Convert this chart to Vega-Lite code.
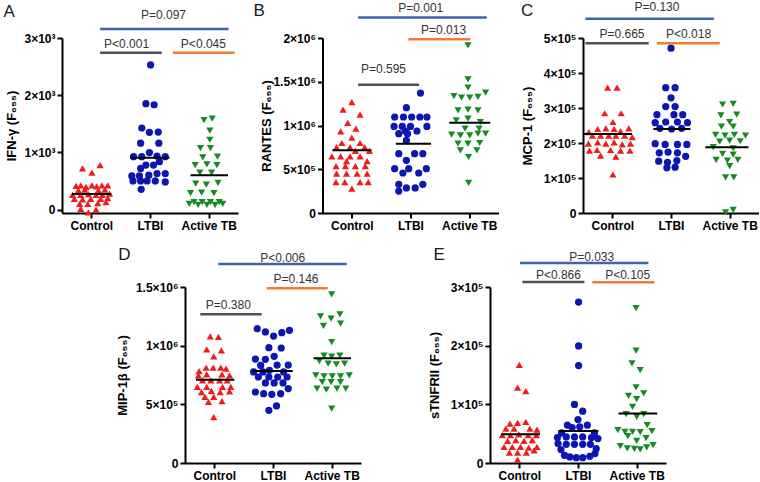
{
"$schema":"https://vega.github.io/schema/vega-lite/v6.json",
"padding":{"left":3,"top":1,"right":0,"bottom":0},
"background":"white",
"config":{
 "view":{"stroke":null},
 "font":"Liberation Sans",
 "point":{"size":52},
 "axis":{"domainColor":"#000","domainWidth":2,"tickColor":"#000","tickWidth":2,"tickSize":5,"labelFont":"Liberation Sans","labelFontSize":12,"labelFontWeight":"bold","labelColor":"#000","titleFont":"Liberation Sans","titleFontSize":13,"titleFontWeight":"bold","titleColor":"#000","grid":false,"labelPadding":2,"labelFlush":false,"labelOverlap":false,"titleBaseline":"alphabetic","tickCount":12},
 "axisX":{"labelAngle":0}
},
"datasets":{
"A":[
{"g":"Control","x":1.15,"v":778},{"g":"Control","x":1.01,"v":648},{"g":"Control","x":0.85,"v":719},{"g":"Control","x":0.74,"v":413},{"g":"Control","x":0.82,"v":424},{"g":"Control","x":0.91,"v":395},{"g":"Control","x":1.01,"v":424},{"g":"Control","x":1.09,"v":407},{"g":"Control","x":1.18,"v":424},{"g":"Control","x":1.28,"v":424},{"g":"Control","x":0.78,"v":336},{"g":"Control","x":0.89,"v":348},{"g":"Control","x":1.12,"v":336},{"g":"Control","x":1.23,"v":348},{"g":"Control","x":0.68,"v":259},{"g":"Control","x":0.82,"v":259},{"g":"Control","x":0.95,"v":271},{"g":"Control","x":1.08,"v":259},{"g":"Control","x":1.19,"v":259},{"g":"Control","x":1.31,"v":277},{"g":"Control","x":0.71,"v":189},{"g":"Control","x":0.85,"v":177},{"g":"Control","x":0.99,"v":189},{"g":"Control","x":1.16,"v":189},{"g":"Control","x":1.28,"v":200},{"g":"Control","x":0.8,"v":100},{"g":"Control","x":0.94,"v":100},{"g":"Control","x":1.11,"v":112},{"g":"Control","x":1.25,"v":130},{"g":"Control","x":0.82,"v":12},{"g":"Control","x":1.08,"v":0},{"g":"Control","x":0.95,"v":-50},
{"g":"LTBI","x":2.01,"v":2529},{"g":"LTBI","x":1.93,"v":1851},{"g":"LTBI","x":2.07,"v":1833},{"g":"LTBI","x":1.86,"v":1426},{"g":"LTBI","x":1.99,"v":1350},{"g":"LTBI","x":2.14,"v":1356},{"g":"LTBI","x":1.84,"v":1161},{"g":"LTBI","x":2.15,"v":1161},{"g":"LTBI","x":1.99,"v":996},{"g":"LTBI","x":1.72,"v":925},{"g":"LTBI","x":1.86,"v":925},{"g":"LTBI","x":2.12,"v":937},{"g":"LTBI","x":2.26,"v":925},{"g":"LTBI","x":2.16,"v":837},{"g":"LTBI","x":1.93,"v":778},{"g":"LTBI","x":2.06,"v":778},{"g":"LTBI","x":1.84,"v":719},{"g":"LTBI","x":2.12,"v":631},{"g":"LTBI","x":2.26,"v":631},{"g":"LTBI","x":1.69,"v":589},{"g":"LTBI","x":1.82,"v":589},{"g":"LTBI","x":1.98,"v":601},{"g":"LTBI","x":1.71,"v":501},{"g":"LTBI","x":1.84,"v":501},{"g":"LTBI","x":1.95,"v":501},{"g":"LTBI","x":2.09,"v":501},{"g":"LTBI","x":2.26,"v":483},{"g":"LTBI","x":1.85,"v":354},
{"g":"Active TB","x":3.06,"v":1591},{"g":"Active TB","x":2.92,"v":1562},{"g":"Active TB","x":3.02,"v":1379},{"g":"Active TB","x":3.02,"v":1220},{"g":"Active TB","x":2.86,"v":1073},{"g":"Active TB","x":3.03,"v":1073},{"g":"Active TB","x":2.9,"v":914},{"g":"Active TB","x":3.15,"v":925},{"g":"Active TB","x":2.77,"v":778},{"g":"Active TB","x":2.97,"v":790},{"g":"Active TB","x":3.14,"v":778},{"g":"Active TB","x":2.85,"v":648},{"g":"Active TB","x":3.05,"v":648},{"g":"Active TB","x":2.78,"v":454},{"g":"Active TB","x":2.96,"v":436},{"g":"Active TB","x":3.16,"v":466},{"g":"Active TB","x":2.69,"v":289},{"g":"Active TB","x":2.88,"v":295},{"g":"Active TB","x":3.09,"v":289},{"g":"Active TB","x":2.75,"v":130},{"g":"Active TB","x":2.89,"v":130},{"g":"Active TB","x":3.03,"v":130},{"g":"Active TB","x":3.18,"v":130},{"g":"Active TB","x":2.67,"v":100},{"g":"Active TB","x":2.82,"v":83},{"g":"Active TB","x":2.97,"v":83},{"g":"Active TB","x":3.11,"v":83},{"g":"Active TB","x":3.24,"v":100}
],
"B":[
{"g":"Control","x":1.0,"v":1268000},{"g":"Control","x":0.85,"v":1181000},{"g":"Control","x":1.14,"v":1124000},{"g":"Control","x":0.93,"v":1029000},{"g":"Control","x":1.07,"v":964000},{"g":"Control","x":0.81,"v":933000},{"g":"Control","x":1.0,"v":861000},{"g":"Control","x":0.83,"v":800000},{"g":"Control","x":1.14,"v":800000},{"g":"Control","x":0.74,"v":754000},{"g":"Control","x":0.97,"v":754000},{"g":"Control","x":1.22,"v":754000},{"g":"Control","x":1.06,"v":709000},{"g":"Control","x":1.3,"v":709000},{"g":"Control","x":0.66,"v":648000},{"g":"Control","x":0.81,"v":648000},{"g":"Control","x":0.97,"v":648000},{"g":"Control","x":1.14,"v":648000},{"g":"Control","x":0.91,"v":594000},{"g":"Control","x":1.26,"v":594000},{"g":"Control","x":0.73,"v":537000},{"g":"Control","x":0.89,"v":537000},{"g":"Control","x":1.06,"v":537000},{"g":"Control","x":1.23,"v":537000},{"g":"Control","x":0.74,"v":450000},{"g":"Control","x":0.91,"v":450000},{"g":"Control","x":1.09,"v":450000},{"g":"Control","x":1.26,"v":450000},{"g":"Control","x":0.73,"v":354000},{"g":"Control","x":0.88,"v":354000},{"g":"Control","x":1.14,"v":354000},{"g":"Control","x":1.28,"v":354000},{"g":"Control","x":1.0,"v":278000},
{"g":"LTBI","x":2.17,"v":1371000},{"g":"LTBI","x":1.93,"v":1204000},{"g":"LTBI","x":1.73,"v":1097000},{"g":"LTBI","x":1.88,"v":1097000},{"g":"LTBI","x":2.02,"v":1097000},{"g":"LTBI","x":2.16,"v":1097000},{"g":"LTBI","x":2.28,"v":1097000},{"g":"LTBI","x":1.72,"v":990000},{"g":"LTBI","x":1.86,"v":990000},{"g":"LTBI","x":2.0,"v":990000},{"g":"LTBI","x":2.28,"v":990000},{"g":"LTBI","x":1.91,"v":937000},{"g":"LTBI","x":2.11,"v":937000},{"g":"LTBI","x":1.8,"v":907000},{"g":"LTBI","x":1.95,"v":907000},{"g":"LTBI","x":1.93,"v":830000},{"g":"LTBI","x":1.8,"v":678000},{"g":"LTBI","x":2.07,"v":678000},{"g":"LTBI","x":2.21,"v":678000},{"g":"LTBI","x":1.93,"v":602000},{"g":"LTBI","x":1.73,"v":507000},{"g":"LTBI","x":1.97,"v":507000},{"g":"LTBI","x":2.27,"v":507000},{"g":"LTBI","x":1.87,"v":457000},{"g":"LTBI","x":2.14,"v":457000},{"g":"LTBI","x":1.8,"v":328000},{"g":"LTBI","x":2.21,"v":328000},{"g":"LTBI","x":1.93,"v":286000},{"g":"LTBI","x":2.08,"v":286000},{"g":"LTBI","x":1.8,"v":251000},
{"g":"Active TB","x":2.98,"v":1916000},{"g":"Active TB","x":2.98,"v":1528000},{"g":"Active TB","x":2.98,"v":1432000},{"g":"Active TB","x":2.74,"v":1337000},{"g":"Active TB","x":2.87,"v":1318000},{"g":"Active TB","x":3.01,"v":1318000},{"g":"Active TB","x":3.15,"v":1326000},{"g":"Active TB","x":3.28,"v":1375000},{"g":"Active TB","x":2.81,"v":1173000},{"g":"Active TB","x":2.98,"v":1181000},{"g":"Active TB","x":3.15,"v":1173000},{"g":"Active TB","x":2.98,"v":1078000},{"g":"Active TB","x":2.78,"v":1059000},{"g":"Active TB","x":3.19,"v":1040000},{"g":"Active TB","x":2.93,"v":964000},{"g":"Active TB","x":3.17,"v":964000},{"g":"Active TB","x":2.7,"v":895000},{"g":"Active TB","x":2.85,"v":888000},{"g":"Active TB","x":3.01,"v":888000},{"g":"Active TB","x":3.15,"v":907000},{"g":"Active TB","x":3.28,"v":907000},{"g":"Active TB","x":2.81,"v":792000},{"g":"Active TB","x":2.98,"v":792000},{"g":"Active TB","x":3.18,"v":800000},{"g":"Active TB","x":2.85,"v":716000},{"g":"Active TB","x":3.13,"v":716000},{"g":"Active TB","x":2.99,"v":640000},{"g":"Active TB","x":2.99,"v":343000}
],
"C":[
{"g":"Control","x":0.92,"v":358000},{"g":"Control","x":1.08,"v":358000},{"g":"Control","x":0.87,"v":285000},{"g":"Control","x":1.15,"v":285000},{"g":"Control","x":1.01,"v":260000},{"g":"Control","x":0.75,"v":240000},{"g":"Control","x":0.89,"v":242000},{"g":"Control","x":1.03,"v":240000},{"g":"Control","x":1.28,"v":242000},{"g":"Control","x":0.6,"v":231000},{"g":"Control","x":1.14,"v":234000},{"g":"Control","x":0.66,"v":221000},{"g":"Control","x":0.8,"v":221000},{"g":"Control","x":0.94,"v":221000},{"g":"Control","x":1.06,"v":221000},{"g":"Control","x":1.21,"v":221000},{"g":"Control","x":1.34,"v":217000},{"g":"Control","x":0.75,"v":202000},{"g":"Control","x":1.03,"v":202000},{"g":"Control","x":0.59,"v":198000},{"g":"Control","x":0.89,"v":198000},{"g":"Control","x":1.17,"v":196000},{"g":"Control","x":1.31,"v":198000},{"g":"Control","x":0.61,"v":178000},{"g":"Control","x":0.74,"v":180000},{"g":"Control","x":0.97,"v":180000},{"g":"Control","x":1.14,"v":178000},{"g":"Control","x":1.3,"v":178000},{"g":"Control","x":0.8,"v":164000},{"g":"Control","x":1.06,"v":161000},{"g":"Control","x":1.01,"v":110000},
{"g":"LTBI","x":2.0,"v":471000},{"g":"LTBI","x":1.91,"v":358000},{"g":"LTBI","x":2.07,"v":358000},{"g":"LTBI","x":2.0,"v":329000},{"g":"LTBI","x":1.91,"v":304000},{"g":"LTBI","x":2.07,"v":304000},{"g":"LTBI","x":1.76,"v":281000},{"g":"LTBI","x":2.05,"v":281000},{"g":"LTBI","x":2.2,"v":281000},{"g":"LTBI","x":1.73,"v":258000},{"g":"LTBI","x":1.91,"v":260000},{"g":"LTBI","x":2.11,"v":260000},{"g":"LTBI","x":2.28,"v":258000},{"g":"LTBI","x":1.81,"v":242000},{"g":"LTBI","x":2.01,"v":240000},{"g":"LTBI","x":2.18,"v":242000},{"g":"LTBI","x":1.73,"v":198000},{"g":"LTBI","x":1.9,"v":196000},{"g":"LTBI","x":2.11,"v":196000},{"g":"LTBI","x":2.27,"v":196000},{"g":"LTBI","x":1.8,"v":172000},{"g":"LTBI","x":1.95,"v":174000},{"g":"LTBI","x":2.11,"v":172000},{"g":"LTBI","x":2.25,"v":162000},{"g":"LTBI","x":1.79,"v":148000},{"g":"LTBI","x":1.94,"v":145000},{"g":"LTBI","x":2.1,"v":150000},{"g":"LTBI","x":1.93,"v":129000},{"g":"LTBI","x":2.07,"v":131000},
{"g":"Active TB","x":2.88,"v":310000},{"g":"Active TB","x":3.06,"v":312000},{"g":"Active TB","x":2.85,"v":279000},{"g":"Active TB","x":3.12,"v":281000},{"g":"Active TB","x":3.0,"v":260000},{"g":"Active TB","x":2.86,"v":247000},{"g":"Active TB","x":3.06,"v":247000},{"g":"Active TB","x":2.76,"v":223000},{"g":"Active TB","x":2.92,"v":221000},{"g":"Active TB","x":3.08,"v":223000},{"g":"Active TB","x":3.27,"v":221000},{"g":"Active TB","x":2.83,"v":204000},{"g":"Active TB","x":3.0,"v":207000},{"g":"Active TB","x":3.18,"v":205000},{"g":"Active TB","x":2.72,"v":188000},{"g":"Active TB","x":3.06,"v":185000},{"g":"Active TB","x":2.88,"v":169000},{"g":"Active TB","x":3.06,"v":167000},{"g":"Active TB","x":2.77,"v":152000},{"g":"Active TB","x":2.96,"v":150000},{"g":"Active TB","x":3.14,"v":152000},{"g":"Active TB","x":3.0,"v":134000},{"g":"Active TB","x":2.93,"v":102000},{"g":"Active TB","x":3.07,"v":102000},{"g":"Active TB","x":2.93,"v":2000},{"g":"Active TB","x":3.06,"v":9000}
],
"D":[
{"g":"Control","x":0.93,"v":1080000},{"g":"Control","x":1.07,"v":1074000},{"g":"Control","x":0.87,"v":969000},{"g":"Control","x":1.12,"v":960000},{"g":"Control","x":0.99,"v":909000},{"g":"Control","x":0.86,"v":813000},{"g":"Control","x":0.98,"v":813000},{"g":"Control","x":1.11,"v":813000},{"g":"Control","x":0.74,"v":784000},{"g":"Control","x":1.2,"v":804000},{"g":"Control","x":0.73,"v":747000},{"g":"Control","x":1.26,"v":747000},{"g":"Control","x":0.87,"v":756000},{"g":"Control","x":1.13,"v":756000},{"g":"Control","x":0.8,"v":705000},{"g":"Control","x":0.94,"v":705000},{"g":"Control","x":1.09,"v":705000},{"g":"Control","x":1.22,"v":705000},{"g":"Control","x":0.71,"v":648000},{"g":"Control","x":0.87,"v":648000},{"g":"Control","x":1.14,"v":648000},{"g":"Control","x":1.28,"v":648000},{"g":"Control","x":0.78,"v":605000},{"g":"Control","x":0.95,"v":614000},{"g":"Control","x":1.1,"v":605000},{"g":"Control","x":1.26,"v":611000},{"g":"Control","x":0.84,"v":563000},{"g":"Control","x":0.99,"v":563000},{"g":"Control","x":1.13,"v":528000},{"g":"Control","x":0.9,"v":520000},{"g":"Control","x":0.99,"v":392000},
{"g":"LTBI","x":1.73,"v":1145000},{"g":"LTBI","x":1.87,"v":1117000},{"g":"LTBI","x":2.01,"v":1082000},{"g":"LTBI","x":2.15,"v":1111000},{"g":"LTBI","x":2.28,"v":1131000},{"g":"LTBI","x":1.93,"v":983000},{"g":"LTBI","x":2.14,"v":980000},{"g":"LTBI","x":2.02,"v":909000},{"g":"LTBI","x":1.7,"v":886000},{"g":"LTBI","x":1.87,"v":884000},{"g":"LTBI","x":2.07,"v":835000},{"g":"LTBI","x":2.26,"v":835000},{"g":"LTBI","x":1.79,"v":832000},{"g":"LTBI","x":1.67,"v":776000},{"g":"LTBI","x":1.83,"v":776000},{"g":"LTBI","x":1.94,"v":790000},{"g":"LTBI","x":2.18,"v":776000},{"g":"LTBI","x":1.75,"v":733000},{"g":"LTBI","x":1.93,"v":733000},{"g":"LTBI","x":2.08,"v":733000},{"g":"LTBI","x":2.24,"v":733000},{"g":"LTBI","x":1.87,"v":682000},{"g":"LTBI","x":2.02,"v":682000},{"g":"LTBI","x":2.17,"v":682000},{"g":"LTBI","x":2.26,"v":634000},{"g":"LTBI","x":1.7,"v":605000},{"g":"LTBI","x":1.84,"v":591000},{"g":"LTBI","x":1.98,"v":585000},{"g":"LTBI","x":2.13,"v":591000},{"g":"LTBI","x":2.06,"v":486000},{"g":"LTBI","x":1.93,"v":449000},
{"g":"Active TB","x":3.0,"v":1438000},{"g":"Active TB","x":2.81,"v":1250000},{"g":"Active TB","x":2.99,"v":1230000},{"g":"Active TB","x":3.14,"v":1267000},{"g":"Active TB","x":2.86,"v":1168000},{"g":"Active TB","x":3.15,"v":1188000},{"g":"Active TB","x":3.0,"v":1031000},{"g":"Active TB","x":2.87,"v":915000},{"g":"Active TB","x":3.0,"v":906000},{"g":"Active TB","x":3.14,"v":915000},{"g":"Active TB","x":2.79,"v":869000},{"g":"Active TB","x":2.94,"v":847000},{"g":"Active TB","x":3.08,"v":841000},{"g":"Active TB","x":3.22,"v":847000},{"g":"Active TB","x":2.73,"v":747000},{"g":"Active TB","x":2.87,"v":739000},{"g":"Active TB","x":3.01,"v":739000},{"g":"Active TB","x":3.15,"v":739000},{"g":"Active TB","x":3.3,"v":747000},{"g":"Active TB","x":2.84,"v":690000},{"g":"Active TB","x":2.99,"v":690000},{"g":"Active TB","x":3.15,"v":690000},{"g":"Active TB","x":2.75,"v":634000},{"g":"Active TB","x":2.91,"v":625000},{"g":"Active TB","x":3.09,"v":634000},{"g":"Active TB","x":3.24,"v":634000},{"g":"Active TB","x":3.0,"v":463000}
],
"E":[
{"g":"Control","x":1.0,"v":167100},{"g":"Control","x":0.97,"v":128300},{"g":"Control","x":1.11,"v":122600},{"g":"Control","x":0.84,"v":67300},{"g":"Control","x":0.97,"v":68400},{"g":"Control","x":1.11,"v":70100},{"g":"Control","x":0.77,"v":58700},{"g":"Control","x":0.91,"v":58700},{"g":"Control","x":1.18,"v":58700},{"g":"Control","x":1.3,"v":57000},{"g":"Control","x":0.71,"v":47300},{"g":"Control","x":0.85,"v":47300},{"g":"Control","x":0.99,"v":49000},{"g":"Control","x":1.15,"v":47300},{"g":"Control","x":1.29,"v":47300},{"g":"Control","x":0.8,"v":37600},{"g":"Control","x":0.94,"v":38800},{"g":"Control","x":1.08,"v":37600},{"g":"Control","x":1.22,"v":38800},{"g":"Control","x":0.74,"v":27400},{"g":"Control","x":0.88,"v":27400},{"g":"Control","x":1.02,"v":27400},{"g":"Control","x":1.16,"v":26200},{"g":"Control","x":1.3,"v":27400},{"g":"Control","x":0.83,"v":17700},{"g":"Control","x":0.97,"v":17700},{"g":"Control","x":1.12,"v":17700},{"g":"Control","x":1.25,"v":21700},{"g":"Control","x":0.97,"v":5700},
{"g":"LTBI","x":2.01,"v":274300},{"g":"LTBI","x":2.01,"v":199600},{"g":"LTBI","x":2.01,"v":166000},{"g":"LTBI","x":1.94,"v":99800},{"g":"LTBI","x":2.08,"v":88400},{"g":"LTBI","x":2.0,"v":74100},{"g":"LTBI","x":1.82,"v":64400},{"g":"LTBI","x":2.16,"v":64400},{"g":"LTBI","x":1.9,"v":60500},{"g":"LTBI","x":2.03,"v":61600},{"g":"LTBI","x":1.72,"v":51300},{"g":"LTBI","x":2.28,"v":51300},{"g":"LTBI","x":1.65,"v":43300},{"g":"LTBI","x":1.8,"v":44500},{"g":"LTBI","x":1.94,"v":44500},{"g":"LTBI","x":2.08,"v":44500},{"g":"LTBI","x":2.23,"v":43300},{"g":"LTBI","x":2.34,"v":41600},{"g":"LTBI","x":1.66,"v":33100},{"g":"LTBI","x":1.8,"v":31900},{"g":"LTBI","x":1.94,"v":31900},{"g":"LTBI","x":2.08,"v":31900},{"g":"LTBI","x":2.21,"v":31900},{"g":"LTBI","x":2.31,"v":24500},{"g":"LTBI","x":1.71,"v":22800},{"g":"LTBI","x":1.77,"v":13100},{"g":"LTBI","x":1.86,"v":10300},{"g":"LTBI","x":1.97,"v":9100},{"g":"LTBI","x":2.08,"v":9100},{"g":"LTBI","x":2.2,"v":11400},{"g":"LTBI","x":2.29,"v":16000},
{"g":"Active TB","x":2.99,"v":264000},{"g":"Active TB","x":2.99,"v":191500},{"g":"Active TB","x":2.92,"v":170000},{"g":"Active TB","x":3.06,"v":158500},{"g":"Active TB","x":2.99,"v":128900},{"g":"Active TB","x":2.86,"v":114600},{"g":"Active TB","x":3.12,"v":118700},{"g":"Active TB","x":3.0,"v":108900},{"g":"Active TB","x":2.93,"v":95800},{"g":"Active TB","x":2.82,"v":83300},{"g":"Active TB","x":3.0,"v":78700},{"g":"Active TB","x":3.12,"v":83300},{"g":"Active TB","x":3.18,"v":64500},{"g":"Active TB","x":2.68,"v":55900},{"g":"Active TB","x":2.8,"v":53000},{"g":"Active TB","x":2.93,"v":53000},{"g":"Active TB","x":3.06,"v":52500},{"g":"Active TB","x":3.26,"v":54200},{"g":"Active TB","x":2.85,"v":45700},{"g":"Active TB","x":3.0,"v":37600},{"g":"Active TB","x":3.16,"v":42200},{"g":"Active TB","x":2.72,"v":28600},{"g":"Active TB","x":2.84,"v":25100},{"g":"Active TB","x":2.96,"v":23900},{"g":"Active TB","x":3.06,"v":23400},{"g":"Active TB","x":3.17,"v":26800},{"g":"Active TB","x":3.28,"v":30300}
],
"avg":[
{"p":"A","x1":0.67,"x2":1.34,"v":271},{"p":"A","x1":1.66,"x2":2.33,"v":908},{"p":"A","x1":2.69,"x2":3.33,"v":601},
{"p":"B","x1":0.67,"x2":1.335,"v":716000},{"p":"B","x1":1.75,"x2":2.35,"v":792000},{"p":"B","x1":2.66,"x2":3.36,"v":1032000},
{"p":"C","x1":0.51,"x2":1.335,"v":226000},{"p":"C","x1":1.7,"x2":2.33,"v":240000},{"p":"C","x1":2.585,"x2":3.32,"v":188000},
{"p":"D","x1":0.687,"x2":1.34,"v":710000},{"p":"D","x1":1.654,"x2":2.336,"v":784000},{"p":"D","x1":2.69,"x2":3.33,"v":892000},
{"p":"E","x1":0.69,"x2":1.352,"v":49000},{"p":"E","x1":1.666,"x2":2.348,"v":54700},{"p":"E","x1":2.69,"x2":3.35,"v":84500}
],
"ann":[
{"p":"A","c":"all","x1":1.15,"x2":3.34,"y":3158,"tx":2.23,"ty":3324,"label":"P=0.097"},
{"p":"A","c":"lo","x1":1.15,"x2":2.2,"y":2743,"tx":1.6,"ty":2824,"label":"P<0.001"},
{"p":"A","c":"hi","x1":2.39,"x2":3.44,"y":2743,"tx":2.91,"ty":2824,"label":"P<0.045"},
{"p":"B","c":"all","x1":1.107,"x2":3.3,"y":2233000,"tx":2.175,"ty":2297000,"label":"P=0.001"},
{"p":"B","c":"hi","x1":1.966,"x2":3.016,"y":1985000,"tx":2.564,"ty":2050000,"label":"P=0.013"},
{"p":"B","c":"lo","x1":1.107,"x2":2.146,"y":1467000,"tx":1.54,"ty":1600000,"label":"P=0.595"},
{"p":"C","c":"all","x1":0.54,"x2":2.73,"y":554900,"tx":1.76,"ty":576600,"label":"P=0.130"},
{"p":"C","c":"lo","x1":0.54,"x2":1.62,"y":485100,"tx":1.165,"ty":499400,"label":"P=0.665"},
{"p":"C","c":"hi","x1":1.76,"x2":2.83,"y":485100,"tx":2.3,"ty":499400,"label":"P<0.018"},
{"p":"D","c":"all","x1":1.068,"x2":3.256,"y":1696000,"tx":2.165,"ty":1716000,"label":"P<0.006"},
{"p":"D","c":"hi","x1":1.893,"x2":2.932,"y":1489000,"tx":2.392,"ty":1532000,"label":"P=0.146"},
{"p":"D","c":"lo","x1":0.761,"x2":1.807,"y":1267000,"tx":1.238,"ty":1310000,"label":"P=0.380"},
{"p":"E","c":"all","x1":1.011,"x2":3.2,"y":340700,"tx":2.233,"ty":343700,"label":"P=0.033"},
{"p":"E","c":"lo","x1":1.052,"x2":2.109,"y":308500,"tx":1.666,"ty":314100,"label":"P<0.866"},
{"p":"E","c":"hi","x1":2.245,"x2":3.302,"y":308000,"tx":2.847,"ty":314100,"label":"P<0.105"}
]
},
"vconcat":[
{"hconcat":[
{"width":176,"height":175,
 "title":{"text":"A","anchor":"start","frame":"group","dx":-58.4,"dy":24.6,"offset":0,"baseline":"alphabetic","fontSize":17,"fontWeight":"normal","font":"Liberation Sans","color":"#1a1a1a"},
 "resolve":{"scale":{"color":"independent"}},
 "layer":[
  {"data":{"name":"A"},"mark":{"type":"point","filled":true,"opacity":1},
   "encoding":{
    "x":{"field":"x","type":"quantitative","title":null,"scale":{"domain":[0.5,3.5],"nice":false,"zero":false},"axis":{"values":[1,2,3],"labelExpr":"datum.value==1?'Control':datum.value==2?'LTBI':'Active TB'"}},
    "y":{"field":"v","type":"quantitative","title":"IFN-γ (F₆₅₅)","scale":{"domain":[-60,3000],"nice":false,"zero":false},"axis":{"values":[0,1000,2000,3000],"tickCount":12,"labelExpr":"datum.value==0?'0':(datum.value/1000)+'×10³'","titleX":-47}},
    "shape":{"field":"g","type":"nominal","scale":{"domain":["Control","LTBI","Active TB"],"range":["triangle-up","circle","triangle-down"]},"legend":null},
    "color":{"field":"g","type":"nominal","scale":{"domain":["Control","LTBI","Active TB"],"range":["#ee1c1c","#0c16b0","#178a22"]},"legend":null}}},
  {"data":{"name":"avg"},"transform":[{"filter":"datum.p=='A'"}],"mark":{"type":"rule","color":"black","strokeWidth":2},"encoding":{"x":{"field":"x1","type":"quantitative","title":null},"x2":{"field":"x2"},"y":{"field":"v","type":"quantitative","title":"IFN-γ (F₆₅₅)"}}},
  {"data":{"name":"ann"},"transform":[{"filter":"datum.p=='A'"}],"mark":{"type":"rule","strokeWidth":2.5},"encoding":{"x":{"field":"x1","type":"quantitative","title":null},"x2":{"field":"x2"},"y":{"field":"y","type":"quantitative","title":"IFN-γ (F₆₅₅)"},"color":{"field":"c","type":"nominal","scale":{"domain":["all","lo","hi"],"range":["#3d65ad","#505050","#ee7d31"]},"legend":null}}},
  {"data":{"name":"ann"},"transform":[{"filter":"datum.p=='A'"}],"mark":{"type":"text","fontSize":12,"baseline":"alphabetic","align":"center","color":"#333333","font":"Liberation Sans"},"encoding":{"x":{"field":"tx","type":"quantitative","title":null},"y":{"field":"ty","type":"quantitative","title":"IFN-γ (F₆₅₅)"},"text":{"field":"label"}}}
 ]},
{"width":176,"height":175,
 "title":{"text":"B","anchor":"start","frame":"group","dx":-69,"dy":31.2,"offset":0,"baseline":"alphabetic","fontSize":17,"fontWeight":"normal","font":"Liberation Sans","color":"#1a1a1a"},
 "resolve":{"scale":{"color":"independent"}},
 "layer":[
  {"data":{"name":"B"},"mark":{"type":"point","filled":true,"opacity":1},
   "encoding":{
    "x":{"field":"x","type":"quantitative","title":null,"scale":{"domain":[0.5,3.5],"nice":false,"zero":false},"axis":{"values":[1,2,3],"labelExpr":"datum.value==1?'Control':datum.value==2?'LTBI':'Active TB'"}},
    "y":{"field":"v","type":"quantitative","title":"RANTES (F₆₅₅)","scale":{"domain":[0,2000000],"nice":false,"zero":false},"axis":{"values":[0,500000,1000000,1500000,2000000],"tickCount":12,"labelExpr":"datum.value==0?'0':datum.value==500000?'5×10⁵':(datum.value/1000000)+'×10⁶'","titleX":-52.3}},
    "shape":{"field":"g","type":"nominal","scale":{"domain":["Control","LTBI","Active TB"],"range":["triangle-up","circle","triangle-down"]},"legend":null},
    "color":{"field":"g","type":"nominal","scale":{"domain":["Control","LTBI","Active TB"],"range":["#ee1c1c","#0c16b0","#178a22"]},"legend":null}}},
  {"data":{"name":"avg"},"transform":[{"filter":"datum.p=='B'"}],"mark":{"type":"rule","color":"black","strokeWidth":2},"encoding":{"x":{"field":"x1","type":"quantitative","title":null},"x2":{"field":"x2"},"y":{"field":"v","type":"quantitative","title":"RANTES (F₆₅₅)"}}},
  {"data":{"name":"ann"},"transform":[{"filter":"datum.p=='B'"}],"mark":{"type":"rule","strokeWidth":2.5},"encoding":{"x":{"field":"x1","type":"quantitative","title":null},"x2":{"field":"x2"},"y":{"field":"y","type":"quantitative","title":"RANTES (F₆₅₅)"},"color":{"field":"c","type":"nominal","scale":{"domain":["all","lo","hi"],"range":["#3d65ad","#505050","#ee7d31"]},"legend":null}}},
  {"data":{"name":"ann"},"transform":[{"filter":"datum.p=='B'"}],"mark":{"type":"text","fontSize":12,"baseline":"alphabetic","align":"center","color":"#333333","font":"Liberation Sans"},"encoding":{"x":{"field":"tx","type":"quantitative","title":null},"y":{"field":"ty","type":"quantitative","title":"RANTES (F₆₅₅)"},"text":{"field":"label"}}}
 ]},
{"width":176,"height":175,
 "title":{"text":"C","anchor":"start","frame":"group","dx":-62,"dy":32.2,"offset":0,"baseline":"alphabetic","fontSize":17,"fontWeight":"normal","font":"Liberation Sans","color":"#1a1a1a"},
 "resolve":{"scale":{"color":"independent"}},
 "layer":[
  {"data":{"name":"C"},"mark":{"type":"point","filled":true,"opacity":1},
   "encoding":{
    "x":{"field":"x","type":"quantitative","title":null,"scale":{"domain":[0.5,3.5],"nice":false,"zero":false},"axis":{"values":[1,2,3],"labelExpr":"datum.value==1?'Control':datum.value==2?'LTBI':'Active TB'"}},
    "y":{"field":"v","type":"quantitative","title":"MCP-1 (F₆₅₅)","scale":{"domain":[0,500000],"nice":false,"zero":false},"axis":{"values":[0,100000,200000,300000,400000,500000],"tickCount":12,"labelExpr":"datum.value==0?'0':(datum.value/100000)+'×10⁵'","titleX":-51.3}},
    "shape":{"field":"g","type":"nominal","scale":{"domain":["Control","LTBI","Active TB"],"range":["triangle-up","circle","triangle-down"]},"legend":null},
    "color":{"field":"g","type":"nominal","scale":{"domain":["Control","LTBI","Active TB"],"range":["#ee1c1c","#0c16b0","#178a22"]},"legend":null}}},
  {"data":{"name":"avg"},"transform":[{"filter":"datum.p=='C'"}],"mark":{"type":"rule","color":"black","strokeWidth":2},"encoding":{"x":{"field":"x1","type":"quantitative","title":null},"x2":{"field":"x2"},"y":{"field":"v","type":"quantitative","title":"MCP-1 (F₆₅₅)"}}},
  {"data":{"name":"ann"},"transform":[{"filter":"datum.p=='C'"}],"mark":{"type":"rule","strokeWidth":2.5},"encoding":{"x":{"field":"x1","type":"quantitative","title":null},"x2":{"field":"x2"},"y":{"field":"y","type":"quantitative","title":"MCP-1 (F₆₅₅)"},"color":{"field":"c","type":"nominal","scale":{"domain":["all","lo","hi"],"range":["#3d65ad","#505050","#ee7d31"]},"legend":null}}},
  {"data":{"name":"ann"},"transform":[{"filter":"datum.p=='C'"}],"mark":{"type":"text","fontSize":12,"baseline":"alphabetic","align":"center","color":"#333333","font":"Liberation Sans"},"encoding":{"x":{"field":"tx","type":"quantitative","title":null},"y":{"field":"ty","type":"quantitative","title":"MCP-1 (F₆₅₅)"},"text":{"field":"label"}}}
 ]}
],"spacing":84.5,"bounds":"flush"},
{"hconcat":[
{"width":62.3,"height":176,"data":{"values":[]},"mark":"point"},
{"width":176,"height":176,
 "title":{"text":"D","anchor":"start","frame":"group","dx":-66.7,"dy":25.7,"offset":0,"baseline":"alphabetic","fontSize":17,"fontWeight":"normal","font":"Liberation Sans","color":"#1a1a1a"},
 "resolve":{"scale":{"color":"independent"}},
 "layer":[
  {"data":{"name":"D"},"mark":{"type":"point","filled":true,"opacity":1},
   "encoding":{
    "x":{"field":"x","type":"quantitative","title":null,"scale":{"domain":[0.5,3.5],"nice":false,"zero":false},"axis":{"values":[1,2,3],"labelExpr":"datum.value==1?'Control':datum.value==2?'LTBI':'Active TB'"}},
    "y":{"field":"v","type":"quantitative","title":"MIP-1β (F₆₅₅)","scale":{"domain":[0,1500000],"nice":false,"zero":false},"axis":{"values":[0,500000,1000000,1500000],"tickCount":12,"labelExpr":"datum.value==0?'0':datum.value==500000?'5×10⁵':(datum.value/1000000)+'×10⁶'","titleX":-58.3}},
    "shape":{"field":"g","type":"nominal","scale":{"domain":["Control","LTBI","Active TB"],"range":["triangle-up","circle","triangle-down"]},"legend":null},
    "color":{"field":"g","type":"nominal","scale":{"domain":["Control","LTBI","Active TB"],"range":["#ee1c1c","#0c16b0","#178a22"]},"legend":null}}},
  {"data":{"name":"avg"},"transform":[{"filter":"datum.p=='D'"}],"mark":{"type":"rule","color":"black","strokeWidth":2},"encoding":{"x":{"field":"x1","type":"quantitative","title":null},"x2":{"field":"x2"},"y":{"field":"v","type":"quantitative","title":"MIP-1β (F₆₅₅)"}}},
  {"data":{"name":"ann"},"transform":[{"filter":"datum.p=='D'"}],"mark":{"type":"rule","strokeWidth":2.5},"encoding":{"x":{"field":"x1","type":"quantitative","title":null},"x2":{"field":"x2"},"y":{"field":"y","type":"quantitative","title":"MIP-1β (F₆₅₅)"},"color":{"field":"c","type":"nominal","scale":{"domain":["all","lo","hi"],"range":["#3d65ad","#505050","#ee7d31"]},"legend":null}}},
  {"data":{"name":"ann"},"transform":[{"filter":"datum.p=='D'"}],"mark":{"type":"text","fontSize":12,"baseline":"alphabetic","align":"center","color":"#333333","font":"Liberation Sans"},"encoding":{"x":{"field":"tx","type":"quantitative","title":null},"y":{"field":"ty","type":"quantitative","title":"MIP-1β (F₆₅₅)"},"text":{"field":"label"}}}
 ]},
{"width":8.3,"height":176,"data":{"values":[]},"mark":"point"},
{"width":176,"height":176,
 "title":{"text":"E","anchor":"start","frame":"group","dx":-56.6,"dy":26.1,"offset":0,"baseline":"alphabetic","fontSize":17,"fontWeight":"normal","font":"Liberation Sans","color":"#1a1a1a"},
 "resolve":{"scale":{"color":"independent"}},
 "layer":[
  {"data":{"name":"E"},"mark":{"type":"point","filled":true,"opacity":1},
   "encoding":{
    "x":{"field":"x","type":"quantitative","title":null,"scale":{"domain":[0.5,3.5],"nice":false,"zero":false},"axis":{"values":[1,2,3],"labelExpr":"datum.value==1?'Control':datum.value==2?'LTBI':'Active TB'"}},
    "y":{"field":"v","type":"quantitative","title":"sTNFRII (F₆₅₅)","scale":{"domain":[0,300000],"nice":false,"zero":false},"axis":{"values":[0,100000,200000,300000],"tickCount":12,"labelExpr":"datum.value==0?'0':(datum.value/100000)+'×10⁵'","titleX":-51.3}},
    "shape":{"field":"g","type":"nominal","scale":{"domain":["Control","LTBI","Active TB"],"range":["triangle-up","circle","triangle-down"]},"legend":null},
    "color":{"field":"g","type":"nominal","scale":{"domain":["Control","LTBI","Active TB"],"range":["#ee1c1c","#0c16b0","#178a22"]},"legend":null}}},
  {"data":{"name":"avg"},"transform":[{"filter":"datum.p=='E'"}],"mark":{"type":"rule","color":"black","strokeWidth":2},"encoding":{"x":{"field":"x1","type":"quantitative","title":null},"x2":{"field":"x2"},"y":{"field":"v","type":"quantitative","title":"sTNFRII (F₆₅₅)"}}},
  {"data":{"name":"ann"},"transform":[{"filter":"datum.p=='E'"}],"mark":{"type":"rule","strokeWidth":2.5},"encoding":{"x":{"field":"x1","type":"quantitative","title":null},"x2":{"field":"x2"},"y":{"field":"y","type":"quantitative","title":"sTNFRII (F₆₅₅)"},"color":{"field":"c","type":"nominal","scale":{"domain":["all","lo","hi"],"range":["#3d65ad","#505050","#ee7d31"]},"legend":null}}},
  {"data":{"name":"ann"},"transform":[{"filter":"datum.p=='E'"}],"mark":{"type":"text","fontSize":12,"baseline":"alphabetic","align":"center","color":"#333333","font":"Liberation Sans"},"encoding":{"x":{"field":"tx","type":"quantitative","title":null},"y":{"field":"ty","type":"quantitative","title":"sTNFRII (F₆₅₅)"},"text":{"field":"label"}}}
 ]}
],"spacing":60,"bounds":"flush"}
],
"spacing":15
}
